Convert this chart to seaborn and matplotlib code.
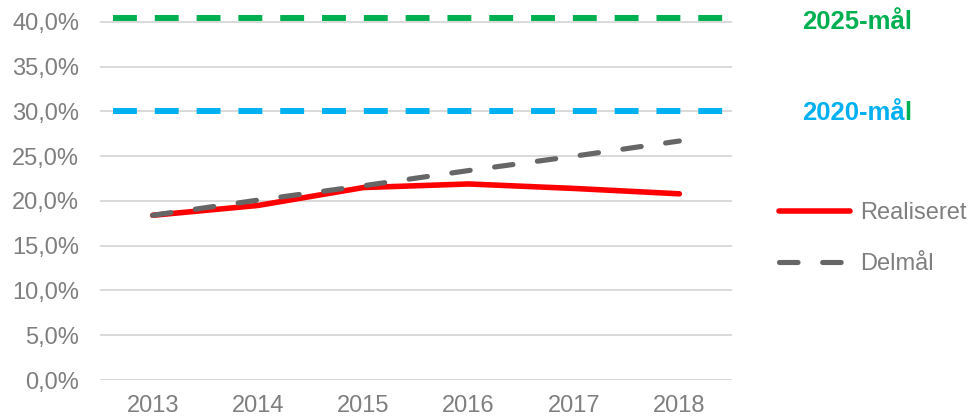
import numpy as np
import pandas as pd
import matplotlib
matplotlib.use("Agg")
import matplotlib.pyplot as plt
import seaborn as sns
from matplotlib.lines import Line2D
from matplotlib.ticker import FuncFormatter

years = [2013, 2014, 2015, 2016, 2017, 2018]
realiseret = [18.4, 19.5, 21.5, 21.9, 21.4, 20.8]
delmaal = [18.4, 20.1, 21.7, 23.4, 25.0, 26.7]
maal_2020 = 30.1
maal_2025 = 40.4

RED = "#ff0000"
GREY = "#666666"
GREEN = "#00b050"
CYAN = "#00b0f0"
TXT = "#7f7f7f"

sns.set_theme(style="white")
plt.rcParams["font.family"] = ["Liberation Sans", "DejaVu Sans"]

fig = plt.figure(figsize=(9.7, 4.18), dpi=100)
ax = fig.add_axes([100 / 970, 38 / 418, 632 / 970, 367 / 418])

df = pd.DataFrame({"year": years, "Realiseret": realiseret, "Delmål": delmaal})

# target lines
ax.axhline(maal_2025, xmin=0.02, xmax=1, color=GREEN, lw=4.3,
           dashes=(4, 3), clip_on=False, zorder=3)
ax.axhline(maal_2020, xmin=0.02, xmax=1, color=CYAN, lw=4.3,
           dashes=(4, 3), clip_on=False, zorder=3)

sns.lineplot(data=df, x="year", y="Realiseret", ax=ax, color=RED, lw=4,
             solid_capstyle="round", zorder=4)
sns.lineplot(data=df, x="year", y="Delmål", ax=ax, color=GREY, lw=3.7,
             dashes=(3.6, 4.8), dash_capstyle="round", zorder=5)

ax.set_xlim(2012.5, 2018.5)
ax.set_ylim(0, 41)
ax.set_yticks(np.arange(0, 41, 5))
ax.set_xticks(years)
ax.yaxis.set_major_formatter(FuncFormatter(lambda v, p: f"{v:.1f}%".replace(".", ",")))
ax.grid(axis="y", color="#d9d9d9", lw=1.4)
ax.set_axisbelow(True)
for s in ax.spines.values():
    s.set_visible(False)
ax.set_xlabel("")
ax.set_ylabel("")
ax.tick_params(axis="both", labelsize=17, colors=TXT, length=0)
ax.tick_params(axis="y", pad=15)
ax.tick_params(axis="x", pad=10.5)

fig.text(802 / 970, 1 - 22 / 418, "2025-mål", color=GREEN, fontsize=18.5,
         fontweight="bold", ha="left", va="center")
t20 = fig.text(802 / 970, 1 - 113 / 418, "2020-må", color=CYAN, fontsize=18.5,
               fontweight="bold", ha="left", va="center")
# the last letter is green in the original
ax.annotate("l", xy=(1, 0), xycoords=t20, color=GREEN, fontsize=18.5,
            fontweight="bold", ha="left", va="bottom")

handles = [Line2D([], [], color=RED, lw=4, solid_capstyle="round"),
           Line2D([], [], color=GREY, lw=3.7, dashes=(3.6, 4.8), dash_capstyle="round")]
fig.legend(handles, ["Realiseret", "Delmål"], loc="upper left",
           bbox_to_anchor=(770 / 970, 1 - 193 / 418), frameon=False,
           fontsize=17, labelcolor=TXT, handlelength=3.0, handletextpad=0.42,
           labelspacing=1.2, borderaxespad=0)

fig.savefig("out.png", dpi=100)
